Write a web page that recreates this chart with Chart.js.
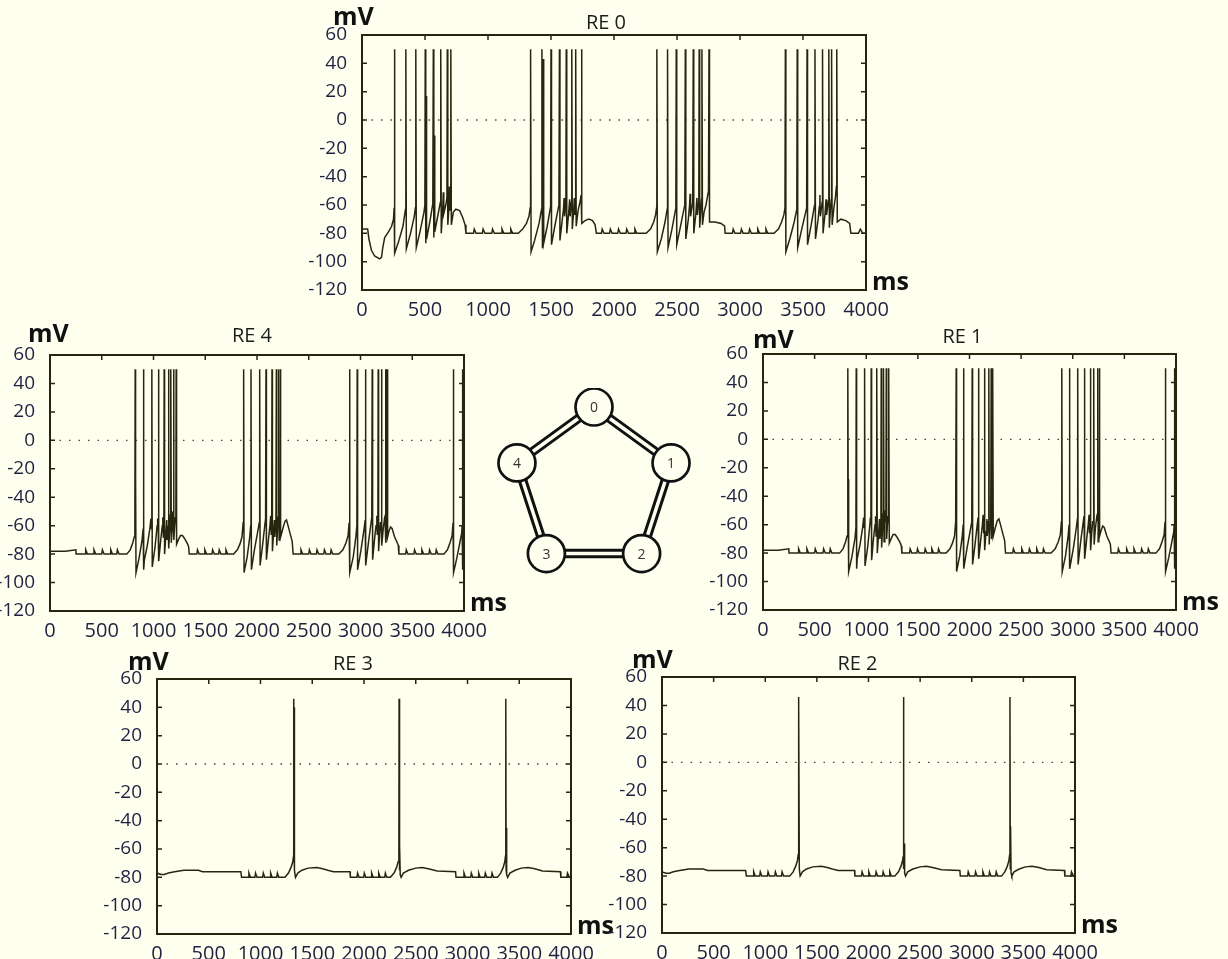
<!DOCTYPE html>
<html>
<head>
<meta charset="utf-8">
<script src="https://cdn.jsdelivr.net/npm/chart.js@4.4.0/dist/chart.umd.min.js"></script>
<style>
  html, body { margin: 0; padding: 0; background: #fffff0; overflow: hidden; }
  body { width: 1228px; height: 959px; position: relative; }
  canvas { position: absolute; }
</style>
</head>
<body>
<canvas id="re0"></canvas>
<canvas id="re4"></canvas>
<canvas id="re1"></canvas>
<canvas id="re3"></canvas>
<canvas id="re2"></canvas>
<canvas id="ring"></canvas>
<script>
// tick labels
const timeTicks = [0, 500, 1000, 1500, 2000, 2500, 3000, 3500, 4000];
const voltTicks = [-120, -100, -80, -60, -40, -20, 0, 20, 40, 60];

// dotted reference line at 0 mV
const zeroRef = [[0, 0], [4000, 0]];

// RE 0 membrane potential, [ms, mV]
const re0Trace = [
  [0,-77],[45,-77],[55,-84],[75,-92],[100,-96],[140,-98],[155,-97],[165,-90],[180,-83],[210,-79],[235,-75],[250,-70],[255,-62],
  [257,50],[261,-94],[290,-86],[325,-75],[345,-63],
  [348,50],[352,-91],[385,-80],[415,-68],[424,-62],
  [427,50],[431,-90],[460,-79],[492,-65],[499,-60],
  [502,50],[506,-87],[509,-74],[511,17],[514,-84],[540,-71],[562,-59],
  [566,50],[570,-83],[573,-72],[576,-11],[579,-79],[605,-66],[622,-58],
  [625,50],[629,-80],[640,-64],[645,-51],[649,-66],[665,-60],[674,-55],
  [677,50],[681,-74],[690,-62],[694,-47],[698,-64],[702,-57],
  [705,50],[709,-74],[725,-65],[745,-63],[775,-64],[800,-69],[818,-74],[825,-80],
  [885,-80],[891,-77],[905,-80],
  [955,-80],[961,-77],[975,-80],
  [1030,-80],[1036,-77],[1050,-80],
  [1105,-80],[1111,-77],[1125,-80],
  [1175,-80],[1181,-77],[1195,-80],
  [1240,-80],[1275,-77],[1305,-73],[1325,-68],[1335,-62],
  [1338,50],[1342,-93],[1370,-85],[1405,-73],[1425,-63],
  [1428,50],[1432,-90],[1436,-84],[1439,43],[1442,-87],[1470,-75],[1497,-61],
  [1500,50],[1504,-88],[1530,-75],[1563,-60],
  [1567,50],[1571,-85],[1590,-70],[1600,-62],[1604,-55],[1608,-68],[1618,-59],
  [1621,50],[1625,-80],[1640,-66],[1648,-56],[1652,-68],[1662,-58],
  [1665,50],[1669,-77],[1680,-64],[1685,-55],[1689,-67],[1694,-58],
  [1696,50],[1700,-75],[1715,-64],[1730,-58],[1739,-53],
  [1742,50],[1746,-73],[1770,-71],[1800,-70],[1830,-71],[1850,-74],[1860,-80],
  [1900,-80],[1906,-77],[1920,-80],
  [1965,-80],[1971,-77],[1985,-80],
  [2030,-80],[2036,-77],[2050,-80],
  [2095,-80],[2101,-77],[2115,-80],
  [2160,-80],[2166,-77],[2180,-80],
  [2255,-80],[2290,-77],[2315,-72],[2330,-67],[2338,-62],
  [2340,50],[2344,-93],[2375,-84],[2405,-72],[2422,-63],
  [2425,50],[2429,-90],[2460,-77],[2491,-62],
  [2494,50],[2498,-88],[2530,-74],[2562,-60],
  [2566,50],[2570,-84],[2590,-70],[2600,-60],[2604,-52],[2608,-68],[2625,-58],
  [2629,50],[2633,-80],[2650,-66],[2658,-55],[2662,-67],[2673,-57],
  [2676,50],[2680,-76],[2690,-63],[2695,-56],
  [2698,50],[2702,-74],[2715,-65],[2730,-60],[2740,-55],[2750,-50],
  [2754,50],[2758,-72],[2800,-72],[2850,-73],[2878,-75],[2882,-80],
  [2940,-80],[2946,-77],[2960,-80],
  [3005,-80],[3011,-77],[3025,-80],
  [3070,-80],[3076,-77],[3090,-80],
  [3135,-80],[3141,-77],[3155,-80],
  [3200,-80],[3206,-77],[3220,-80],
  [3270,-80],[3305,-77],[3330,-72],[3348,-67],[3357,-62],
  [3360,50],[3364,-93],[3395,-84],[3430,-72],[3451,-63],
  [3454,50],[3458,-90],[3490,-77],[3529,-62],
  [3532,50],[3536,-88],[3565,-74],[3592,-60],
  [3595,50],[3599,-84],[3620,-70],[3630,-61],[3634,-53],[3638,-68],[3652,-58],
  [3655,50],[3659,-80],[3675,-66],[3683,-56],[3687,-67],[3702,-57],
  [3705,50],[3709,-76],[3718,-63],[3724,-56],
  [3727,50],[3731,-74],[3745,-62],[3758,-54],[3765,-47],
  [3768,50],[3772,-72],[3800,-70],[3840,-71],[3870,-73],[3880,-80],
  [3940,-80],[3955,-77],[3975,-80],[4000,-80]
];

// RE 4 membrane potential, [ms, mV]
const re4Trace = [
  [0,-78],[150,-78],[250,-77],[252,-80],
  [339,-80],[345,-77],[361,-80],
  [419,-80],[425,-77],[441,-80],
  [500,-80],[506,-77],[522,-80],
  [581,-80],[587,-77],[603,-80],
  [645,-80],[651,-77],[667,-80],
  [742,-80],[775,-77],[800,-72],[814,-68],[820,-56],
  [823,50],[826,-56],[828,-28],[831,-93],[860,-83],[890,-70],[900,-62],
  [903,50],[907,-91],[912,-84],[940,-74],[965,-62],[975,-55],[980,-62],
  [984,50],[988,-89],[1015,-75],[1035,-60],[1040,-55],[1045,-60],
  [1048,50],[1052,-85],[1070,-70],[1085,-60],[1090,-54],[1095,-68],[1100,-60],
  [1103,50],[1107,-80],[1120,-66],[1128,-56],[1132,-70],[1142,-60],
  [1145,50],[1149,-76],[1158,-62],[1163,-52],[1166,-60],
  [1168,50],[1172,-72],[1180,-60],[1185,-50],[1190,-58],
  [1194,50],[1198,-70],[1205,-60],[1212,-54],[1216,-58],
  [1219,50],[1223,-73],[1240,-70],[1260,-67],[1280,-67],[1300,-69],[1330,-73],[1340,-75],[1345,-80],
  [1419,-80],[1425,-77],[1441,-80],
  [1490,-80],[1496,-77],[1512,-80],
  [1565,-80],[1571,-77],[1587,-80],
  [1629,-80],[1635,-77],[1651,-80],
  [1694,-80],[1700,-77],[1716,-80],
  [1774,-80],[1810,-77],[1835,-73],[1855,-68],[1866,-58],
  [1871,50],[1875,-93],[1905,-82],[1930,-68],[1939,-60],
  [1942,50],[1946,-91],[1975,-77],[2010,-63],[2022,-58],
  [2026,50],[2030,-88],[2055,-73],[2075,-60],[2083,-55],
  [2087,50],[2091,-84],[2110,-70],[2125,-60],[2132,-53],[2137,-66],[2142,-58],
  [2145,50],[2149,-78],[2160,-65],[2168,-56],[2172,-68],[2183,-58],
  [2187,50],[2191,-74],[2200,-60],[2206,-54],
  [2210,50],[2214,-70],[2220,-60],[2223,-55],
  [2226,50],[2230,-68],[2250,-62],[2270,-57],[2285,-56],[2300,-60],[2325,-67],[2340,-71],[2349,-80],
  [2419,-80],[2425,-77],[2441,-80],
  [2500,-80],[2506,-77],[2522,-80],
  [2574,-80],[2580,-77],[2596,-80],
  [2645,-80],[2651,-77],[2667,-80],
  [2710,-80],[2716,-77],[2732,-80],
  [2790,-80],[2830,-77],[2860,-72],[2880,-67],[2890,-58],
  [2894,50],[2898,-93],[2930,-82],[2955,-68],[2965,-60],
  [2968,50],[2972,-91],[3005,-77],[3035,-62],[3045,-56],
  [3048,50],[3052,-88],[3075,-73],[3100,-59],[3109,-54],
  [3113,50],[3117,-84],[3135,-70],[3150,-60],[3158,-53],[3162,-66],[3168,-58],
  [3171,50],[3175,-78],[3185,-65],[3193,-58],[3200,-58],
  [3203,50],[3207,-74],[3220,-62],[3232,-55],[3238,-57],
  [3242,50],[3246,-72],[3252,-62],[3256,-56],
  [3258,50],[3262,-68],[3275,-64],[3290,-61],[3305,-62],[3330,-68],[3355,-72],[3365,-74],[3371,-80],
  [3436,-80],[3442,-77],[3458,-80],
  [3516,-80],[3522,-77],[3538,-80],
  [3587,-80],[3593,-77],[3609,-80],
  [3661,-80],[3667,-77],[3683,-80],
  [3726,-80],[3732,-77],[3748,-80],
  [3806,-80],[3840,-77],[3865,-72],[3885,-67],[3894,-58],
  [3897,50],[3901,-93],[3930,-83],[3960,-72],[3978,-65],[3982,-60],
  [3985,50],[3989,-91],[3995,-85],[4000,-84]
];
// RE 1 shows the same trace as RE 4 in the figure
const re1Trace = re4Trace;

// RE 3 membrane potential, [ms, mV]
const re3Trace = [
  [0,-77],[40,-78],[70,-78],[110,-77],[170,-76],[260,-75],[400,-75],[440,-76],[810,-76],[817,-80],
  [882,-80],[888,-77],[902,-80],
  [946,-80],[952,-77],[966,-80],
  [1021,-80],[1027,-77],[1041,-80],
  [1092,-80],[1098,-77],[1112,-80],
  [1157,-80],[1163,-77],[1177,-80],
  [1237,-80],[1270,-77],[1295,-73],[1312,-69],[1319,-65],
  [1321,46],[1324,-60],[1326,40],[1330,-75],[1338,-80],[1360,-77],[1400,-75],[1460,-73.5],[1544,-73],[1600,-74],[1650,-75],[1706,-76],[1865,-76],[1868,-80],
  [1932,-80],[1938,-77],[1952,-80],
  [1997,-80],[2003,-77],[2017,-80],
  [2068,-80],[2074,-77],[2088,-80],
  [2136,-80],[2142,-77],[2156,-80],
  [2200,-80],[2206,-77],[2220,-80],
  [2255,-80],[2290,-77],[2315,-73],[2330,-69],[2337,-66],
  [2339,46],[2342,-75],[2345,-57],[2350,-78],[2359,-80],[2380,-77],[2430,-75],[2500,-73.5],[2562,-73],[2620,-74],[2708,-75.5],[2885,-76],[2889,-80],
  [2960,-80],[2966,-77],[2980,-80],
  [3031,-80],[3037,-77],[3051,-80],
  [3102,-80],[3108,-77],[3122,-80],
  [3166,-80],[3172,-77],[3186,-80],
  [3231,-80],[3237,-77],[3251,-80],
  [3289,-80],[3320,-77],[3345,-73],[3360,-69],[3367,-65],
  [3370,46],[3373,-75],[3376,-45],[3381,-78],[3388,-80],[3410,-77],[3460,-75],[3520,-73.5],[3586,-73],[3650,-74],[3725,-75.5],[3898,-76],[3902,-80],
  [3960,-80],[3966,-77],[3985,-80],[4000,-80]
];
// RE 2 shows the same trace as RE 3 in the figure
const re2Trace = re3Trace;

// ring network nodes (in drawing order around the pentagon)
const ringNodes = ['0', '1', '2', '3', '4'];

const inkColor = '#26260f';
const labelColor = '#1e2240';
const bgColor = '#fffff0';

// where each panel's plot box sits on the page
const panels = [
  { id: 're0', title: 'RE 0', trace: re0Trace, left: 362, top: 35, w: 504, h: 255, titleDx: -8, titleDy: -6, mvDx: -29, mvDy: -10 },
  { id: 're4', title: 'RE 4', trace: re4Trace, left: 50, top: 355, w: 414, h: 256, titleDx: -5, titleDy: -13, mvDx: -22, mvDy: -13 },
  { id: 're1', title: 'RE 1', trace: re1Trace, left: 763, top: 354, w: 413, h: 256, titleDx: -7, titleDy: -11, mvDx: -10, mvDy: -6 },
  { id: 're3', title: 'RE 3', trace: re3Trace, left: 157, top: 679, w: 414, h: 255, titleDx: -11, titleDy: -9, mvDx: -29, mvDy: -9 },
  { id: 're2', title: 'RE 2', trace: re2Trace, left: 662, top: 677, w: 413, h: 256, titleDx: -11, titleDy: -7, mvDx: -30, mvDy: -9 }
];

const padL = 72, padT = 45, padR = 55, padB = 26;

const framePlugin = {
  id: 'frame',
  afterDatasetsDraw(chart, args, opts) {
    const ctx = chart.ctx, a = chart.chartArea, x = chart.scales.x, y = chart.scales.y;
    ctx.save();
    ctx.strokeStyle = inkColor;
    ctx.lineWidth = 2;
    ctx.strokeRect(a.left, a.top, a.right - a.left, a.bottom - a.top);
    ctx.lineWidth = 1.5;
    ctx.beginPath();
    timeTicks.forEach(t => {
      const px = x.getPixelForValue(t);
      ctx.moveTo(px, a.top); ctx.lineTo(px, a.top + 5);
    });
    voltTicks.forEach(v => {
      const py = y.getPixelForValue(v);
      ctx.moveTo(a.left, py); ctx.lineTo(a.left + 5, py);
      ctx.moveTo(a.right, py); ctx.lineTo(a.right - 5, py);
    });
    ctx.stroke();
    ctx.fillStyle = '#1c1c1c';
    ctx.font = '20px "Open Sans"';
    ctx.textAlign = 'center';
    ctx.textBaseline = 'alphabetic';
    ctx.fillText(opts.title, (a.left + a.right) / 2 + opts.titleDx, a.top + opts.titleDy);
    ctx.fillStyle = '#111';
    ctx.font = 'bold 25px "Open Sans"';
    ctx.textAlign = 'left';
    ctx.fillText('mV', a.left + opts.mvDx, a.top + opts.mvDy);
    ctx.fillText('ms', a.right + 6, a.bottom);
    ctx.restore();
  }
};

function makePanel(p) {
  const cv = document.getElementById(p.id);
  cv.width = p.w + padL + padR;
  cv.height = p.h + padT + padB;
  cv.style.left = (p.left - padL) + 'px';
  cv.style.top = (p.top - padT) + 'px';
  new Chart(cv, {
    type: 'line',
    data: {
      datasets: [
        { data: p.trace, borderColor: inkColor, borderWidth: 1.5, pointRadius: 0, tension: 0, order: 0 },
        { data: zeroRef, borderColor: '#444', borderWidth: 1.3, borderDash: [1.5, 8], pointRadius: 0, order: 1 }
      ]
    },
    options: {
      responsive: false,
      animation: false,
      events: [],
      layout: { autoPadding: false, padding: { top: padT, right: padR, left: 0, bottom: 0 } },
      plugins: { legend: { display: false }, tooltip: { enabled: false }, frame: p },
      scales: {
        x: {
          type: 'linear', min: timeTicks[0], max: timeTicks[timeTicks.length - 1],
          grid: { display: false }, border: { display: false },
          afterBuildTicks: s => { s.ticks = timeTicks.map(v => ({ value: v })); },
          afterFit: s => { s.height = padB; },
          ticks: { autoSkip: false, maxRotation: 0, padding: 0, color: labelColor,
                   font: { family: 'Open Sans', size: 20 }, callback: v => String(v) }
        },
        y: {
          type: 'linear', min: voltTicks[0], max: voltTicks[voltTicks.length - 1],
          grid: { display: false }, border: { display: false },
          afterBuildTicks: s => { s.ticks = voltTicks.map(v => ({ value: v })); },
          afterFit: s => { s.width = padL; },
          ticks: { autoSkip: false, padding: 7, color: labelColor,
                   font: { family: 'Open Sans', size: 19 }, callback: v => String(v) }
        }
      }
    },
    plugins: [framePlugin]
  });
}

const nodeLabelPlugin = {
  id: 'nodeLabels',
  afterDatasetsDraw(chart) {
    const ctx = chart.ctx, meta = chart.getDatasetMeta(0);
    ctx.save();
    ctx.fillStyle = '#333';
    ctx.font = '14px "Open Sans"';
    ctx.textAlign = 'center';
    ctx.textBaseline = 'middle';
    meta.data.forEach((pt, i) => ctx.fillText(ringNodes[i], pt.x, pt.y + 1));
    ctx.restore();
  }
};

function makeRing() {
  const cv = document.getElementById('ring');
  cv.width = 200; cv.height = 200;
  cv.style.left = '494px'; cv.style.top = '388px';
  const R = 81;
  const pts = ringNodes.map((n, i) => {
    const ang = (-90 + 72 * i) * Math.PI / 180;
    return { x: R * Math.cos(ang), y: -R * Math.sin(ang) };
  });
  const loop = pts.concat([pts[0]]);
  new Chart(cv, {
    type: 'scatter',
    data: {
      datasets: [
        { data: pts, pointRadius: 18.5, pointBackgroundColor: bgColor, pointBorderColor: '#111', pointBorderWidth: 2.7, order: 0 },
        { data: loop, showLine: true, borderColor: bgColor, borderWidth: 3.5, pointRadius: 0, order: 1 },
        { data: loop, showLine: true, borderColor: '#111', borderWidth: 9.5, pointRadius: 0, order: 2 }
      ]
    },
    options: {
      responsive: false,
      animation: false,
      events: [],
      layout: { autoPadding: false, padding: 0 },
      plugins: { legend: { display: false }, tooltip: { enabled: false } },
      scales: {
        x: { display: false, min: -100, max: 100 },
        y: { display: false, min: -100, max: 100 }
      }
    },
    plugins: [nodeLabelPlugin]
  });
}

function build() {
  panels.forEach(makePanel);
  makeRing();
}

if (document.fonts && document.fonts.load) {
  Promise.all([
    document.fonts.load('20px "Open Sans"'),
    document.fonts.load('bold 25px "Open Sans"')
  ]).then(build, build);
} else {
  build();
}
</script>
</body>
</html>
